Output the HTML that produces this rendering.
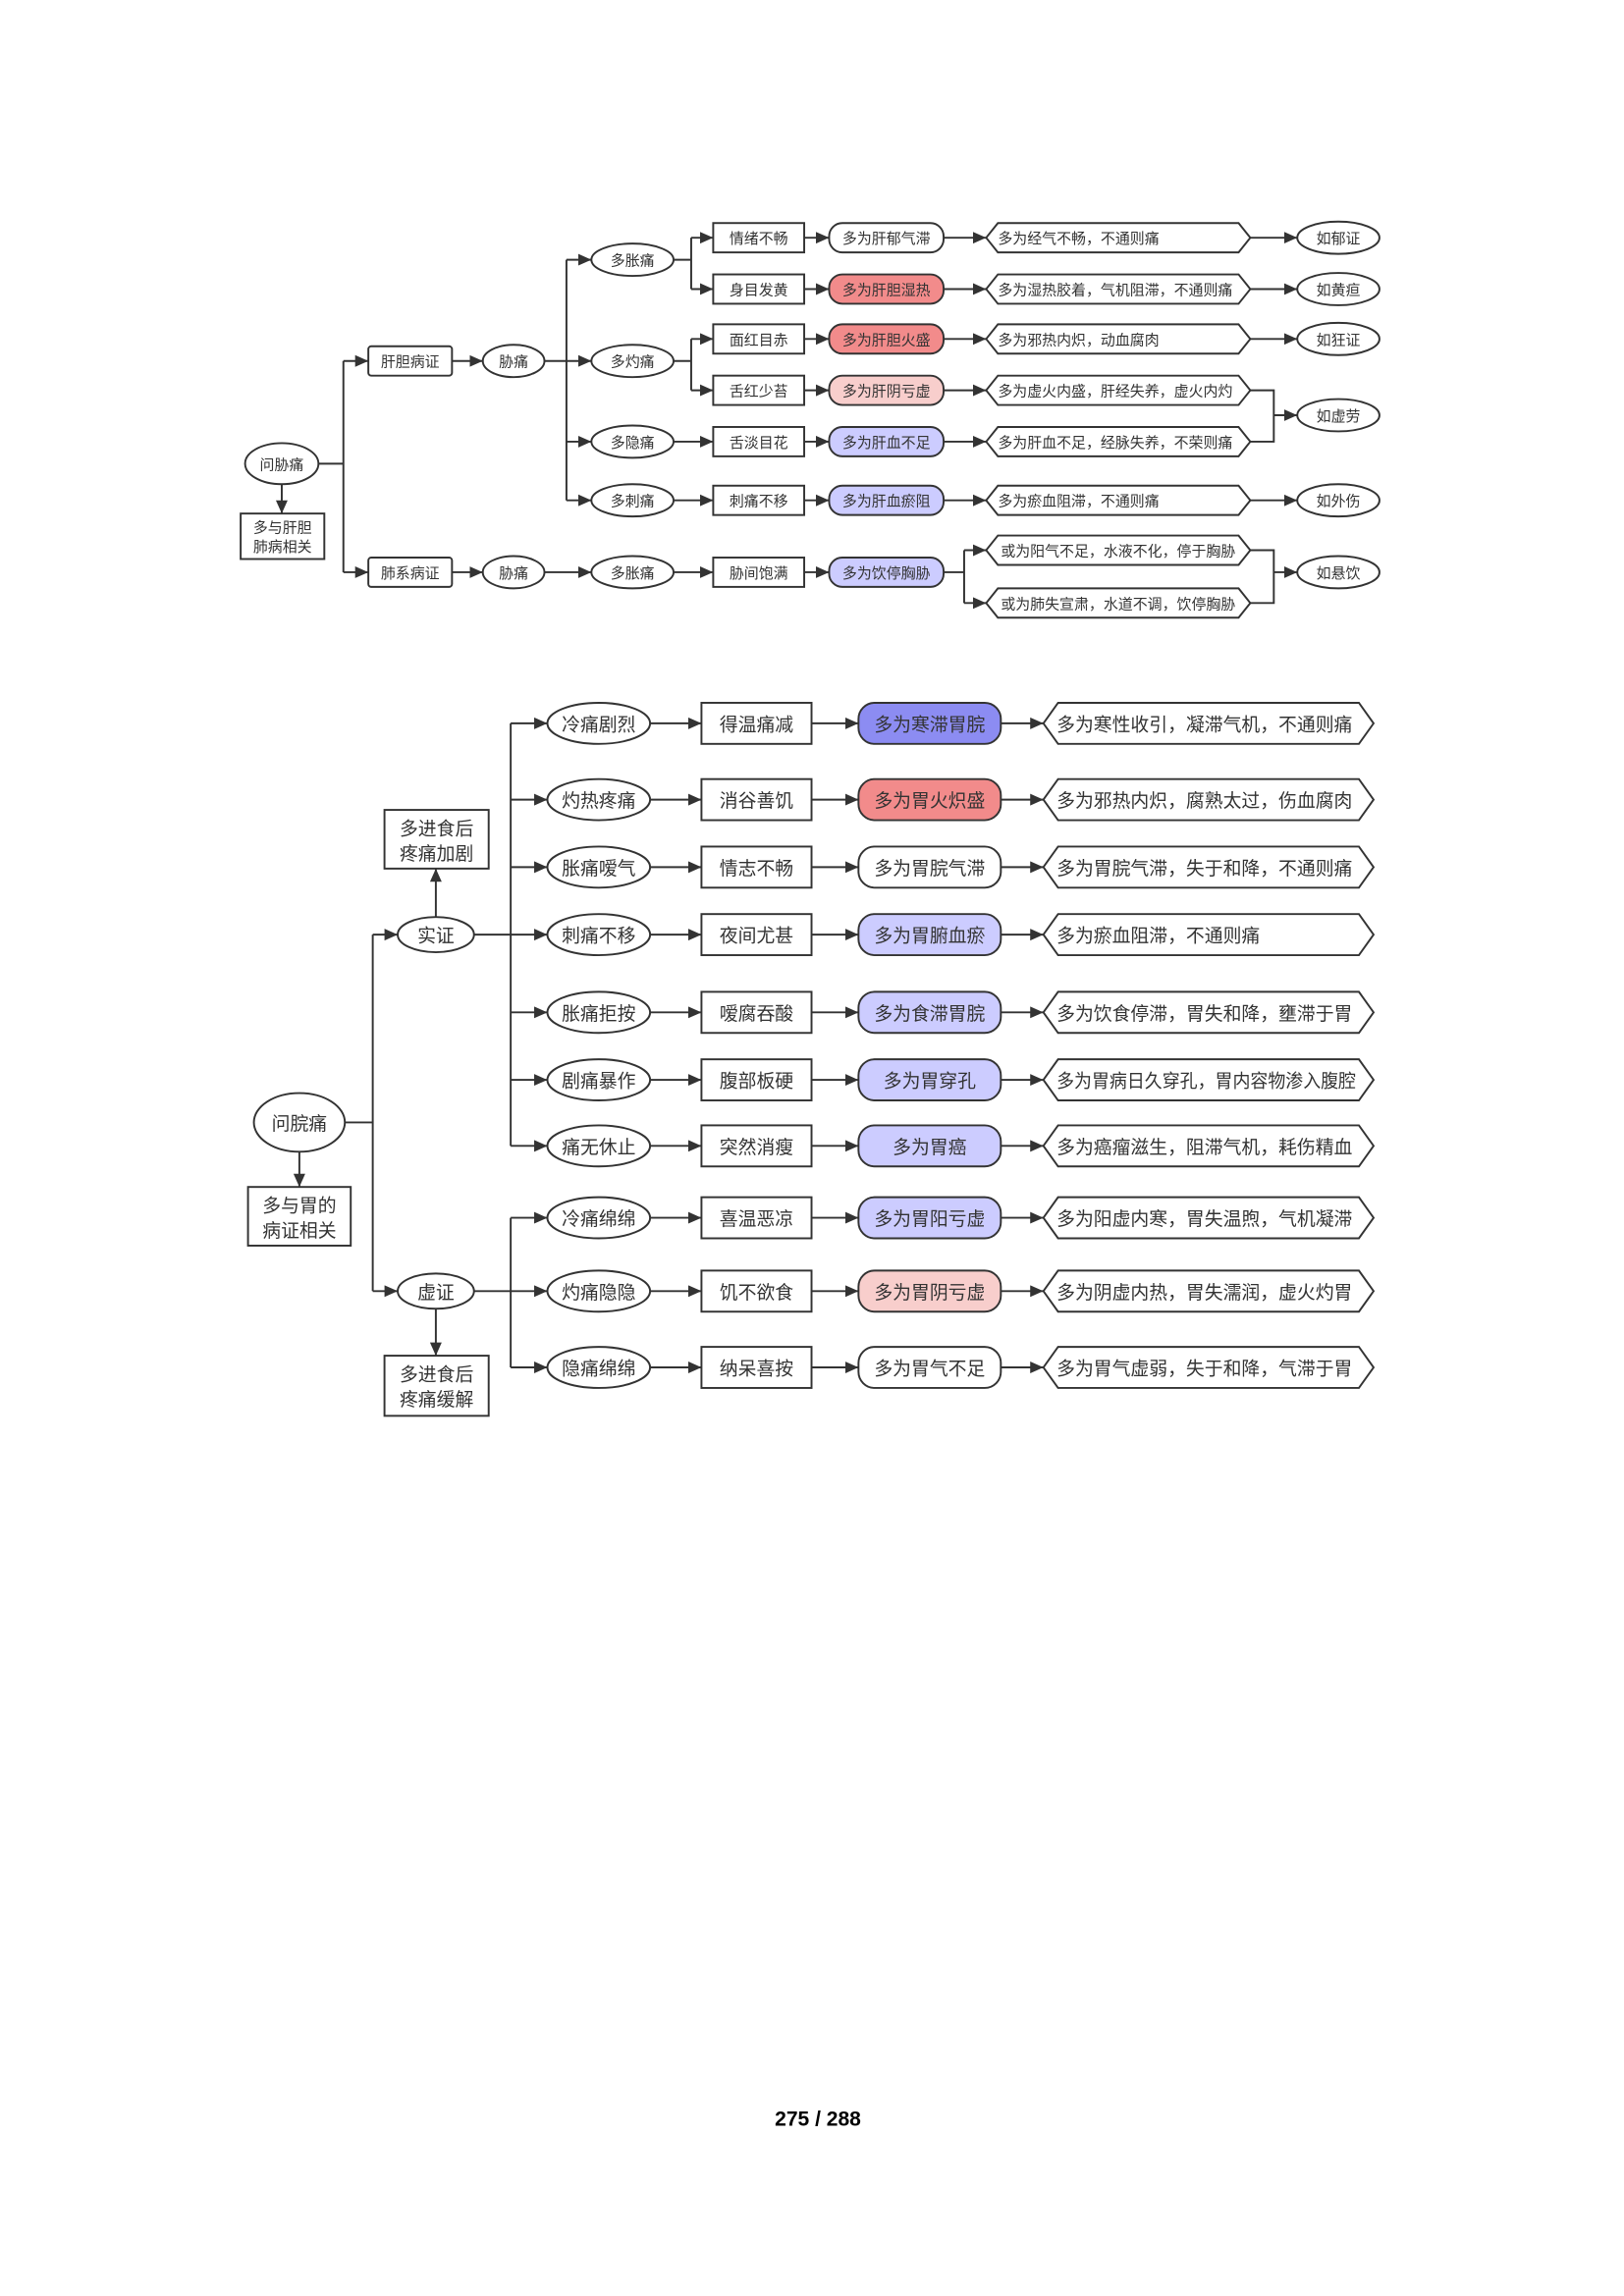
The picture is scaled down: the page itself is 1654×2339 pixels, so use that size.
<!DOCTYPE html>
<html><head><meta charset="utf-8"><style>
html,body{margin:0;padding:0;background:#fff;}
svg{display:block;}
text{font-family:"Liberation Sans","Noto Sans CJK SC",sans-serif;fill:#333;}
.s text{font-size:10px;}
.b text{font-size:12.6px;}
.sh{fill:#fff;stroke:#333;stroke-width:1.3;}
.ln{fill:none;stroke:#333;stroke-width:1.3;}
.ar{fill:none;stroke:#333;stroke-width:1.3;marker-end:url(#a);}
</style></head><body>
<svg width="1654" height="2339" viewBox="0 0 1100 1555.5" xmlns="http://www.w3.org/2000/svg">
<defs><marker id="a" markerUnits="userSpaceOnUse" markerWidth="10" markerHeight="10" refX="9" refY="4" orient="auto"><path d="M0,0 L9,4 L0,8 Z" fill="#333"/></marker></defs>
<g transform="scale(0.994)">
<g class="s">
<path class="ar" d="M192 330 V350"/>
<path class="ln" d="M217 316 H234 M234 246 V390"/>
<path class="ar" d="M234 246 H251"/><path class="ar" d="M234 390 H251"/>
<path class="ar" d="M308 246 H329"/><path class="ar" d="M308 390 H329"/>
<path class="ln" d="M371 246 H386 M386 177 V341"/>
<path class="ar" d="M386 177 H403"/><path class="ar" d="M386 246 H403"/><path class="ar" d="M386 301 H403"/><path class="ar" d="M386 341 H403"/>
<path class="ar" d="M371 390 H403"/>
<path class="ln" d="M459 177 H471 M471 162 V197 M459 246 H471 M471 231 V266"/>
<path class="ar" d="M471 162 H486"/><path class="ar" d="M471 197 H486"/><path class="ar" d="M471 231 H486"/><path class="ar" d="M471 266 H486"/>
<path class="ar" d="M459 301 H486"/><path class="ar" d="M459 341 H486"/><path class="ar" d="M459 390 H486"/>
<path class="ar" d="M548 162 H565"/><path class="ar" d="M548 197 H565"/><path class="ar" d="M548 231 H565"/><path class="ar" d="M548 266 H565"/><path class="ar" d="M548 301 H565"/><path class="ar" d="M548 341 H565"/><path class="ar" d="M548 390 H565"/>
<path class="ar" d="M643 162 H672"/><path class="ar" d="M643 197 H672"/><path class="ar" d="M643 231 H672"/><path class="ar" d="M643 266 H672"/><path class="ar" d="M643 301 H672"/><path class="ar" d="M643 341 H672"/>
<path class="ln" d="M643 390 H657 M657 375 V411"/>
<path class="ar" d="M657 375 H672"/><path class="ar" d="M657 411 H672"/>
<path class="ar" d="M852 162 H884"/><path class="ar" d="M852 197 H884"/><path class="ar" d="M852 231 H884"/><path class="ar" d="M852 341 H884"/>
<path class="ln" d="M852 266 H868 V301 H852 M852 375 H868 V411 H852"/>
<path class="ar" d="M868 283 H884"/><path class="ar" d="M868 390 H884"/>

<ellipse class="sh" cx="192" cy="316" rx="25" ry="14"/><text x="192" y="320" text-anchor="middle">问胁痛</text>
<rect class="sh" x="164" y="350" width="57" height="31"/><text x="192.5" y="363" text-anchor="middle">多与肝胆</text><text x="192.5" y="376" text-anchor="middle">肺病相关</text>
<rect class="sh" x="251" y="236" width="57" height="20" rx="2"/><text x="279.5" y="250" text-anchor="middle">肝胆病证</text>
<rect class="sh" x="251" y="380" width="57" height="20" rx="2"/><text x="279.5" y="394" text-anchor="middle">肺系病证</text>
<ellipse class="sh" cx="350" cy="246" rx="21" ry="11"/><text x="350" y="250" text-anchor="middle">胁痛</text>
<ellipse class="sh" cx="350" cy="390" rx="21" ry="11"/><text x="350" y="394" text-anchor="middle">胁痛</text>
<ellipse class="sh" cx="431" cy="177" rx="28" ry="11"/><text x="431" y="181" text-anchor="middle">多胀痛</text>
<ellipse class="sh" cx="431" cy="246" rx="28" ry="11"/><text x="431" y="250" text-anchor="middle">多灼痛</text>
<ellipse class="sh" cx="431" cy="301" rx="28" ry="11"/><text x="431" y="305" text-anchor="middle">多隐痛</text>
<ellipse class="sh" cx="431" cy="341" rx="28" ry="11"/><text x="431" y="345" text-anchor="middle">多刺痛</text>
<ellipse class="sh" cx="431" cy="390" rx="28" ry="11"/><text x="431" y="394" text-anchor="middle">多胀痛</text>

<rect class="sh" x="486" y="152" width="62" height="20"/><text x="517" y="166" text-anchor="middle">情绪不畅</text>
<rect class="sh" x="486" y="187" width="62" height="20"/><text x="517" y="201" text-anchor="middle">身目发黄</text>
<rect class="sh" x="486" y="221" width="62" height="20"/><text x="517" y="235" text-anchor="middle">面红目赤</text>
<rect class="sh" x="486" y="256" width="62" height="20"/><text x="517" y="270" text-anchor="middle">舌红少苔</text>
<rect class="sh" x="486" y="291" width="62" height="20"/><text x="517" y="305" text-anchor="middle">舌淡目花</text>
<rect class="sh" x="486" y="331" width="62" height="20"/><text x="517" y="345" text-anchor="middle">刺痛不移</text>
<rect class="sh" x="486" y="380" width="62" height="20"/><text x="517" y="394" text-anchor="middle">胁间饱满</text>

<rect class="sh" x="565" y="152" width="78" height="20" rx="9"/><text x="604" y="166" text-anchor="middle">多为肝郁气滞</text>
<rect class="sh" style="fill:#f28b8b" x="565" y="187" width="78" height="20" rx="9"/><text x="604" y="201" text-anchor="middle">多为肝胆湿热</text>
<rect class="sh" style="fill:#f28b8b" x="565" y="221" width="78" height="20" rx="9"/><text x="604" y="235" text-anchor="middle">多为肝胆火盛</text>
<rect class="sh" style="fill:#f8cecc" x="565" y="256" width="78" height="20" rx="9"/><text x="604" y="270" text-anchor="middle">多为肝阴亏虚</text>
<rect class="sh" style="fill:#ccccff" x="565" y="291" width="78" height="20" rx="9"/><text x="604" y="305" text-anchor="middle">多为肝血不足</text>
<rect class="sh" style="fill:#ccccff" x="565" y="331" width="78" height="20" rx="9"/><text x="604" y="345" text-anchor="middle">多为肝血瘀阻</text>
<rect class="sh" style="fill:#ccccff" x="565" y="380" width="78" height="20" rx="9"/><text x="604" y="394" text-anchor="middle">多为饮停胸胁</text>

<polygon class="sh" points="672,162 680,152 844,152 852,162 844,172 680,172"/><text x="680" y="166">多为经气不畅，不通则痛</text>
<polygon class="sh" points="672,197 680,187 844,187 852,197 844,207 680,207"/><text x="680" y="201">多为湿热胶着，气机阻滞，不通则痛</text>
<polygon class="sh" points="672,231 680,221 844,221 852,231 844,241 680,241"/><text x="680" y="235">多为邪热内炽，动血腐肉</text>
<polygon class="sh" points="672,266 680,256 844,256 852,266 844,276 680,276"/><text x="680" y="270">多为虚火内盛，肝经失养，虚火内灼</text>
<polygon class="sh" points="672,301 680,291 844,291 852,301 844,311 680,311"/><text x="680" y="305">多为肝血不足，经脉失养，不荣则痛</text>
<polygon class="sh" points="672,341 680,331 844,331 852,341 844,351 680,351"/><text x="680" y="345">多为瘀血阻滞，不通则痛</text>
<polygon class="sh" points="672,375 680,365 844,365 852,375 844,385 680,385"/><text x="682" y="379">或为阳气不足，水液不化，停于胸胁</text>
<polygon class="sh" points="672,411 680,401 844,401 852,411 844,421 680,421"/><text x="682" y="415">或为肺失宣肃，水道不调，饮停胸胁</text>

<ellipse class="sh" cx="912" cy="162" rx="28" ry="11"/><text x="912" y="166" text-anchor="middle">如郁证</text>
<ellipse class="sh" cx="912" cy="197" rx="28" ry="11"/><text x="912" y="201" text-anchor="middle">如黄疸</text>
<ellipse class="sh" cx="912" cy="231" rx="28" ry="11"/><text x="912" y="235" text-anchor="middle">如狂证</text>
<ellipse class="sh" cx="912" cy="283" rx="28" ry="11"/><text x="912" y="287" text-anchor="middle">如虚劳</text>
<ellipse class="sh" cx="912" cy="341" rx="28" ry="11"/><text x="912" y="345" text-anchor="middle">如外伤</text>
<ellipse class="sh" cx="912" cy="390" rx="28" ry="11"/><text x="912" y="394" text-anchor="middle">如悬饮</text>
</g>

<g class="b">
<path class="ar" d="M204 785 V809"/>
<path class="ln" d="M235 765 H254 M254 637 V880"/>
<path class="ar" d="M254 637 H271"/><path class="ar" d="M254 880 H271"/>
<path class="ar" d="M297 625 V592"/><path class="ar" d="M297 892 V924"/>
<path class="ln" d="M323 637 H348 M348 493 V781 M323 880 H348 M348 830 V932"/>
<path class="ar" d="M348 493 H373"/><path class="ar" d="M348 545 H373"/><path class="ar" d="M348 591 H373"/><path class="ar" d="M348 637 H373"/><path class="ar" d="M348 690 H373"/><path class="ar" d="M348 736 H373"/><path class="ar" d="M348 781 H373"/><path class="ar" d="M348 830 H373"/><path class="ar" d="M348 880 H373"/><path class="ar" d="M348 932 H373"/>
<path class="ar" d="M443 493 H478"/><path class="ar" d="M443 545 H478"/><path class="ar" d="M443 591 H478"/><path class="ar" d="M443 637 H478"/><path class="ar" d="M443 690 H478"/><path class="ar" d="M443 736 H478"/><path class="ar" d="M443 781 H478"/><path class="ar" d="M443 830 H478"/><path class="ar" d="M443 880 H478"/><path class="ar" d="M443 932 H478"/>
<path class="ar" d="M553 493 H585"/><path class="ar" d="M553 545 H585"/><path class="ar" d="M553 591 H585"/><path class="ar" d="M553 637 H585"/><path class="ar" d="M553 690 H585"/><path class="ar" d="M553 736 H585"/><path class="ar" d="M553 781 H585"/><path class="ar" d="M553 830 H585"/><path class="ar" d="M553 880 H585"/><path class="ar" d="M553 932 H585"/>
<path class="ar" d="M682 493 H711"/><path class="ar" d="M682 545 H711"/><path class="ar" d="M682 591 H711"/><path class="ar" d="M682 637 H711"/><path class="ar" d="M682 690 H711"/><path class="ar" d="M682 736 H711"/><path class="ar" d="M682 781 H711"/><path class="ar" d="M682 830 H711"/><path class="ar" d="M682 880 H711"/><path class="ar" d="M682 932 H711"/>

<ellipse class="sh" cx="204" cy="765" rx="31" ry="20"/><text x="204" y="770" text-anchor="middle">问脘痛</text>
<rect class="sh" x="169" y="809" width="70" height="40"/><text x="204" y="826" text-anchor="middle">多与胃的</text><text x="204" y="843" text-anchor="middle">病证相关</text>
<ellipse class="sh" cx="297" cy="637" rx="26" ry="12"/><text x="297" y="642" text-anchor="middle">实证</text>
<ellipse class="sh" cx="297" cy="880" rx="26" ry="12"/><text x="297" y="885" text-anchor="middle">虚证</text>
<rect class="sh" x="262" y="552" width="71" height="40"/><text x="297.5" y="569" text-anchor="middle">多进食后</text><text x="297.5" y="586" text-anchor="middle">疼痛加剧</text>
<rect class="sh" x="262" y="924" width="71" height="41"/><text x="297.5" y="941" text-anchor="middle">多进食后</text><text x="297.5" y="958" text-anchor="middle">疼痛缓解</text>

<ellipse class="sh" cx="408" cy="493" rx="35" ry="14"/><text x="408" y="498" text-anchor="middle">冷痛剧烈</text>
<ellipse class="sh" cx="408" cy="545" rx="35" ry="14"/><text x="408" y="550" text-anchor="middle">灼热疼痛</text>
<ellipse class="sh" cx="408" cy="591" rx="35" ry="14"/><text x="408" y="596" text-anchor="middle">胀痛嗳气</text>
<ellipse class="sh" cx="408" cy="637" rx="35" ry="14"/><text x="408" y="642" text-anchor="middle">刺痛不移</text>
<ellipse class="sh" cx="408" cy="690" rx="35" ry="14"/><text x="408" y="695" text-anchor="middle">胀痛拒按</text>
<ellipse class="sh" cx="408" cy="736" rx="35" ry="14"/><text x="408" y="741" text-anchor="middle">剧痛暴作</text>
<ellipse class="sh" cx="408" cy="781" rx="35" ry="14"/><text x="408" y="786" text-anchor="middle">痛无休止</text>
<ellipse class="sh" cx="408" cy="830" rx="35" ry="14"/><text x="408" y="835" text-anchor="middle">冷痛绵绵</text>
<ellipse class="sh" cx="408" cy="880" rx="35" ry="14"/><text x="408" y="885" text-anchor="middle">灼痛隐隐</text>
<ellipse class="sh" cx="408" cy="932" rx="35" ry="14"/><text x="408" y="937" text-anchor="middle">隐痛绵绵</text>

<rect class="sh" x="478" y="479" width="75" height="28"/><text x="515.5" y="498" text-anchor="middle">得温痛减</text>
<rect class="sh" x="478" y="531" width="75" height="28"/><text x="515.5" y="550" text-anchor="middle">消谷善饥</text>
<rect class="sh" x="478" y="577" width="75" height="28"/><text x="515.5" y="596" text-anchor="middle">情志不畅</text>
<rect class="sh" x="478" y="623" width="75" height="28"/><text x="515.5" y="642" text-anchor="middle">夜间尤甚</text>
<rect class="sh" x="478" y="676" width="75" height="28"/><text x="515.5" y="695" text-anchor="middle">嗳腐吞酸</text>
<rect class="sh" x="478" y="722" width="75" height="28"/><text x="515.5" y="741" text-anchor="middle">腹部板硬</text>
<rect class="sh" x="478" y="767" width="75" height="28"/><text x="515.5" y="786" text-anchor="middle">突然消瘦</text>
<rect class="sh" x="478" y="816" width="75" height="28"/><text x="515.5" y="835" text-anchor="middle">喜温恶凉</text>
<rect class="sh" x="478" y="866" width="75" height="28"/><text x="515.5" y="885" text-anchor="middle">饥不欲食</text>
<rect class="sh" x="478" y="918" width="75" height="28"/><text x="515.5" y="937" text-anchor="middle">纳呆喜按</text>

<rect class="sh" style="fill:#8c8cf2" x="585" y="479" width="97" height="28" rx="11"/><text x="633.5" y="498" text-anchor="middle">多为寒滞胃脘</text>
<rect class="sh" style="fill:#f28b8b" x="585" y="531" width="97" height="28" rx="11"/><text x="633.5" y="550" text-anchor="middle">多为胃火炽盛</text>
<rect class="sh" x="585" y="577" width="97" height="28" rx="11"/><text x="633.5" y="596" text-anchor="middle">多为胃脘气滞</text>
<rect class="sh" style="fill:#ccccff" x="585" y="623" width="97" height="28" rx="11"/><text x="633.5" y="642" text-anchor="middle">多为胃腑血瘀</text>
<rect class="sh" style="fill:#ccccff" x="585" y="676" width="97" height="28" rx="11"/><text x="633.5" y="695" text-anchor="middle">多为食滞胃脘</text>
<rect class="sh" style="fill:#ccccff" x="585" y="722" width="97" height="28" rx="11"/><text x="633.5" y="741" text-anchor="middle">多为胃穿孔</text>
<rect class="sh" style="fill:#ccccff" x="585" y="767" width="97" height="28" rx="11"/><text x="633.5" y="786" text-anchor="middle">多为胃癌</text>
<rect class="sh" style="fill:#ccccff" x="585" y="816" width="97" height="28" rx="11"/><text x="633.5" y="835" text-anchor="middle">多为胃阳亏虚</text>
<rect class="sh" style="fill:#f8cecc" x="585" y="866" width="97" height="28" rx="11"/><text x="633.5" y="885" text-anchor="middle">多为胃阴亏虚</text>
<rect class="sh" x="585" y="918" width="97" height="28" rx="11"/><text x="633.5" y="937" text-anchor="middle">多为胃气不足</text>

<polygon class="sh" points="711,493 721,479 926,479 936,493 926,507 721,507"/><text x="720" y="498">多为寒性收引，凝滞气机，不通则痛</text>
<polygon class="sh" points="711,545 721,531 926,531 936,545 926,559 721,559"/><text x="720" y="550">多为邪热内炽，腐熟太过，伤血腐肉</text>
<polygon class="sh" points="711,591 721,577 926,577 936,591 926,605 721,605"/><text x="720" y="596">多为胃脘气滞，失于和降，不通则痛</text>
<polygon class="sh" points="711,637 721,623 926,623 936,637 926,651 721,651"/><text x="720" y="642">多为瘀血阻滞，不通则痛</text>
<polygon class="sh" points="711,690 721,676 926,676 936,690 926,704 721,704"/><text x="720" y="695">多为饮食停滞，胃失和降，壅滞于胃</text>
<polygon class="sh" points="711,736 721,722 926,722 936,736 926,750 721,750"/><text x="720" y="741" textLength="204" lengthAdjust="spacingAndGlyphs">多为胃病日久穿孔，胃内容物渗入腹腔</text>
<polygon class="sh" points="711,781 721,767 926,767 936,781 926,795 721,795"/><text x="720" y="786">多为癌瘤滋生，阻滞气机，耗伤精血</text>
<polygon class="sh" points="711,830 721,816 926,816 936,830 926,844 721,844"/><text x="720" y="835">多为阳虚内寒，胃失温煦，气机凝滞</text>
<polygon class="sh" points="711,880 721,866 926,866 936,880 926,894 721,894"/><text x="720" y="885">多为阴虚内热，胃失濡润，虚火灼胃</text>
<polygon class="sh" points="711,932 721,918 926,918 936,932 926,946 721,946"/><text x="720" y="937">多为胃气虚弱，失于和降，气滞于胃</text>
</g>
</g>
<text x="554" y="1440" text-anchor="middle" style="font-size:14px;font-weight:bold;fill:#000;">275 / 288</text>
</svg>
</body></html>
